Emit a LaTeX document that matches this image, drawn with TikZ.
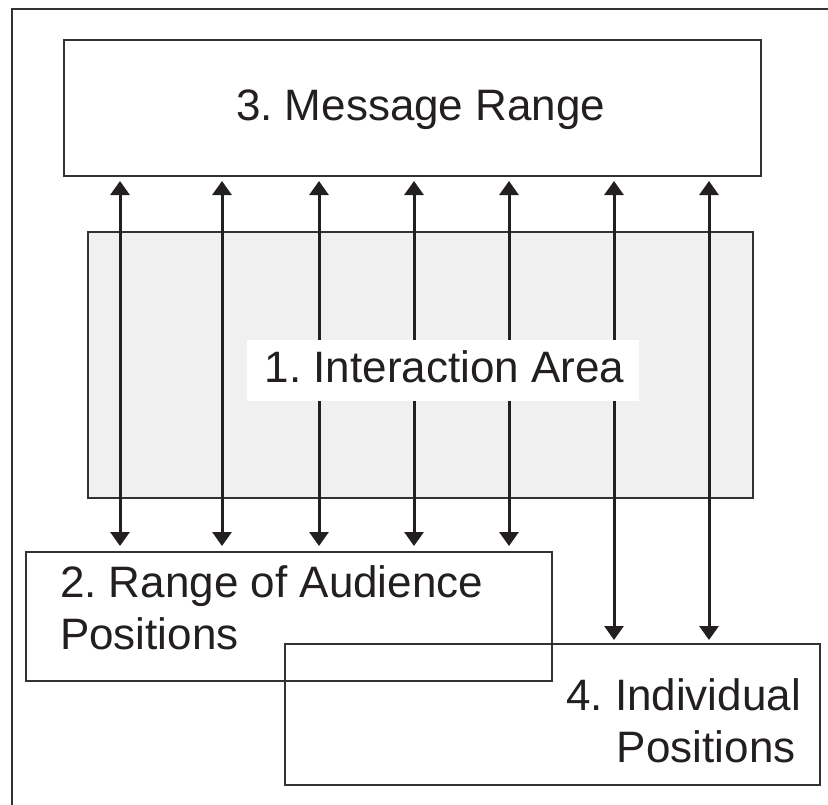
\documentclass[tikz,border=0pt]{standalone}
\usepackage{fontspec}
\setmainfont{Liberation Sans}
\usetikzlibrary{arrows.meta}
\frenchspacing
\definecolor{ink}{RGB}{35,31,32}
\definecolor{edge}{RGB}{50,50,50}
\definecolor{areafill}{RGB}{240,240,240}
\tikzset{
  box/.style={draw=edge, line width=2pt, inner sep=0pt, outer sep=0pt, anchor=north west},
  tipshape/.tip={Triangle[width=19pt,length=14pt]},
  link/.style={draw=ink, line width=3pt, tipshape-tipshape},
  caption/.style={font=\fontsize{44}{51.5}\selectfont, text=ink, inner sep=0pt, outer sep=0pt},
}
\begin{document}
\begin{tikzpicture}[x=1pt,y=-1pt]
\useasboundingbox (0,0) rectangle (828,804);
% outer frame
\draw[edge, line width=2pt] (832,9) -- (12,9) -- (12,808);

% boxes
\node[box, fill=areafill, minimum width=665, minimum height=266] (area) at (88,232) {};
\node[box, minimum width=697, minimum height=136] (message) at (64,40) {};
\node[box, minimum width=526, minimum height=129] (range) at (26,552) {};
\node[box, minimum width=535, minimum height=141] (indiv) at (285,644) {};

% columns of the links
\foreach \n/\x in {1/120,2/222,3/319,4/414,5/509,6/614,7/709}
  \coordinate (col\n) at (\x,0);

\foreach \n in {1,...,5}
  \draw[link] ([yshift=-5pt]message.south -| col\n) -- ([yshift=6pt]range.north -| col\n);
\foreach \n in {6,7}
  \draw[link] ([yshift=-5pt]message.south -| col\n) -- ([yshift=4pt]indiv.north -| col\n);

% label of the interaction area
\node[fill=white, inner sep=0pt, outer sep=0pt, minimum width=392, minimum height=61,
      anchor=north west] (areabg) at (247,340) {};
\node[caption, anchor=base] (areatext) at (444.5,382) {1. Interaction Area};

\node[caption, anchor=base west] (msgtext) at (236,120) {3. Message Range};
\node[caption, anchor=base west, align=left] (rangetext) at (60,649) {2. Range of Audience\\Positions};
\node[caption, anchor=base east, align=right] (indivtext) at (801,762) {4. Individual\\Positions\hspace*{5.5pt}};
\end{tikzpicture}
\end{document}
